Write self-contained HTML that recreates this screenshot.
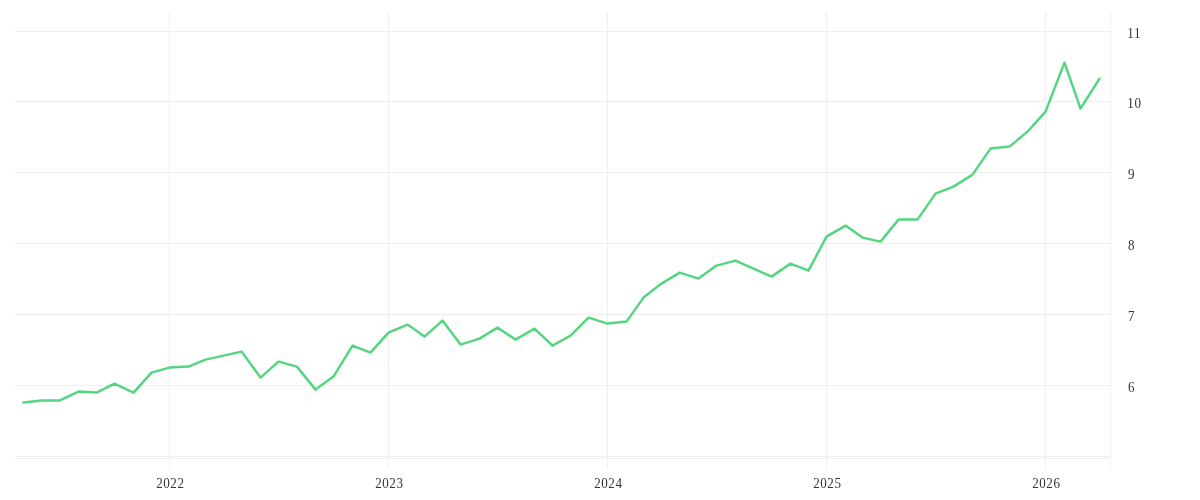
<!DOCTYPE html>
<html lang="en">
<head>
<meta charset="utf-8">
<title>Chart</title>
<style>
html,body{margin:0;padding:0;background:#fff;}
body{width:1200px;height:500px;overflow:hidden;}
svg{display:block;}
text{font-family:"Liberation Serif",serif;font-size:15px;fill:#333333;}
</style>
</head>
<body>
<svg width="1200" height="500" viewBox="0 0 1200 500">
<rect x="0" y="0" width="1200" height="500" fill="#ffffff"/>
<g fill="#efefef" shape-rendering="crispEdges">
<rect x="15" y="31" width="1096" height="1"/>
<rect x="15" y="101" width="1096" height="1"/>
<rect x="15" y="172" width="1096" height="1"/>
<rect x="15" y="243" width="1096" height="1"/>
<rect x="15" y="314" width="1096" height="1"/>
<rect x="15" y="385" width="1096" height="1"/>
<rect x="15" y="456" width="1096" height="1"/>
<rect x="16" y="458" width="1093" height="1"/>
<rect x="169" y="12" width="1" height="457"/>
<rect x="388" y="12" width="1" height="457"/>
<rect x="607" y="12" width="1" height="457"/>
<rect x="826" y="12" width="1" height="457"/>
<rect x="1045" y="12" width="1" height="457"/>
<rect x="1110" y="12" width="1" height="457"/>
</g>
<path d="M23.5 402.6 L41.5 400.6 L59.5 400.6 L78.5 391.6 L96.5 392.6 L114.5 383.6 L133.5 392.6 L151.5 372.6 L169.5 367.6 L188.5 366.6 L205.5 359.6 L223.5 355.6 L241.5 351.6 L260.5 377.6 L278.5 361.6 L296.9 366.6 L315.5 389.6 L333.5 376.6 L352.5 345.6 L370.5 352.6 L388.5 332.6 L407.5 324.6 L424.5 336.6 L442.5 320.6 L460.5 344.6 L479.5 338.6 L497.5 327.6 L515.5 339.6 L534.5 328.6 L552.5 345.6 L570.5 335.6 L588.5 317.6 L607.5 323.6 L626.5 321.6 L643.5 297.6 L661.5 283.6 L679.8 272.6 L698.5 278.6 L716.5 265.6 L735.5 260.6 L753.5 268.6 L771.5 276.6 L790.5 263.6 L808.5 270.6 L826.5 236.6 L845.5 225.6 L862.5 237.6 L880.5 241.6 L898.5 219.6 L917.5 219.6 L935.5 193.6 L953.5 186.6 L972.5 174.6 L990.5 148.6 L1009.5 146.6 L1027.8 131.4 L1045.5 111.6 L1064.5 62.6 L1080.5 108.6 L1099.5 78.6" fill="none" stroke="#56d581" stroke-width="2.5" stroke-linejoin="round" stroke-linecap="round"/>
<g text-anchor="start" letter-spacing="0.64">
<text transform="translate(156.2 488) scale(0.87 1)">2022</text>
<text transform="translate(375.2 488) scale(0.87 1)">2023</text>
<text transform="translate(594.2 488) scale(0.87 1)">2024</text>
<text transform="translate(813.2 488) scale(0.87 1)">2025</text>
<text transform="translate(1032.2 488) scale(0.87 1)">2026</text>
</g>
<g text-anchor="start" letter-spacing="0.64">
<text transform="translate(1127.3 38) scale(0.87 1)">11</text>
<text transform="translate(1127.3 108) scale(0.87 1)">10</text>
<text transform="translate(1127.9 179) scale(0.87 1)">9</text>
<text transform="translate(1127.9 250) scale(0.87 1)">8</text>
<text transform="translate(1127.9 321) scale(0.87 1)">7</text>
<text transform="translate(1127.9 392) scale(0.87 1)">6</text>
</g>
</svg>
</body>
</html>
